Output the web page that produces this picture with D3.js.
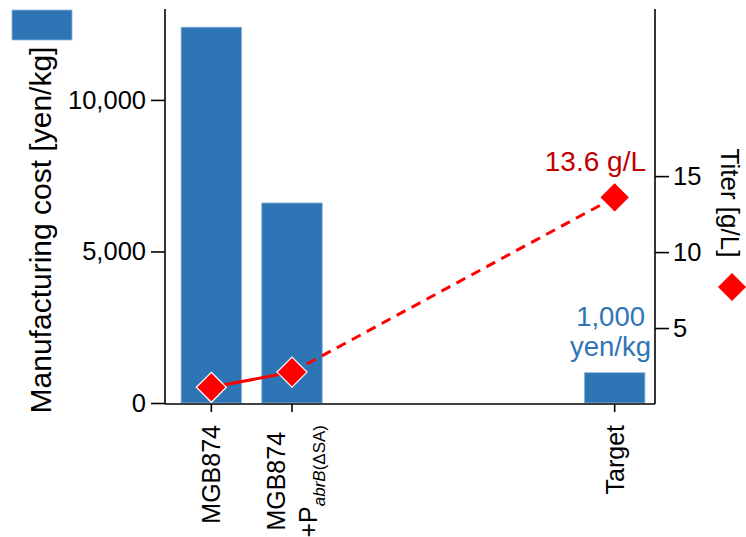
<!DOCTYPE html>
<html>
<head>
<meta charset="utf-8">
<script src="https://cdn.jsdelivr.net/npm/d3@7"></script>
<style>
  html, body { margin: 0; padding: 0; background: #fff; }
  svg { display: block; font-family: "Liberation Sans", Arial, sans-serif; }
</style>
</head>
<body>
<svg id="chart" width="746" height="537"></svg>
<script>
// Strains / scenarios on the x axis
const categories = ["MGB874", "MGB874 +PabrB", "Target"];
// Manufacturing cost per strain [yen/kg] (bars, left axis)
const costValues = [12400, 6600, 1000];
// Titer per strain [g/L] (diamonds, right axis)
const titerValues = [1.1, 2.1, 13.6];
// Axis ticks
const costTicks = [0, 5000, 10000];
const titerTicks = [5, 10, 15];

const BLUE = "#2E75B6";
const RED = "#FF0000";
const DARKRED = "#C00000";

const svg = d3.select("#chart");
const plotLeft = 165, plotRight = 655, plotTop = 9, plotBottom = 404;

// Horizontal layout: two measured strains, a gap of three empty slots, then the target
const slots = [categories[0], categories[1], "_s1", "_s2", "_s3", categories[2]];
const x = d3.scaleBand().domain(slots).range([171, 655]).paddingInner(0).paddingOuter(0);
const cx = c => x(c) + x.bandwidth() / 2;
const barW = x.bandwidth() * 0.75;

const yCost = d3.scaleLinear().domain([0, 13000]).range([plotBottom - 1, plotTop]);
const yTiter = d3.scaleLinear().domain([0, 26]).range([plotBottom, plotTop]);

// Bars
svg.append("g").selectAll("rect")
  .data(categories.map((c, i) => ({ c, v: costValues[i] })))
  .join("rect")
  .attr("x", d => cx(d.c) - barW / 2)
  .attr("y", d => yCost(d.v))
  .attr("width", barW)
  .attr("height", d => yCost(0) - yCost(d.v))
  .attr("fill", BLUE)
  .attr("stroke", "#8FB4DE")
  .attr("stroke-width", 0.8);

// Axes
const fmt = d3.format(",");
const axisStyle = g => {
  g.selectAll("path, line").attr("stroke", "#000").attr("stroke-width", 1.6);
  g.selectAll("text").attr("font-size", 25.5).attr("fill", "#000")
    .attr("font-family", "'Liberation Sans', Arial, sans-serif");
};

svg.append("g")
  .attr("transform", `translate(${plotLeft},0)`)
  .call(d3.axisLeft(yCost).tickValues(costTicks).tickFormat(fmt).tickSize(14).tickPadding(5).tickSizeOuter(0))
  .call(axisStyle)
  .call(g => g.select(".domain").attr("d", `M0,${plotTop}V${plotBottom}`));

svg.append("g")
  .attr("transform", `translate(${plotRight},0)`)
  .call(d3.axisRight(yTiter).tickValues(titerTicks).tickSize(14).tickPadding(4).tickSizeOuter(0))
  .call(axisStyle)
  .call(g => g.select(".domain").attr("d", `M0,${plotTop}V${plotBottom}`));

svg.append("g")
  .attr("transform", `translate(0,${plotBottom})`)
  .call(d3.axisBottom(x).tickValues(categories).tickFormat(() => "").tickSize(8).tickSizeOuter(0))
  .call(axisStyle)
  .call(g => g.select(".domain").attr("d", `M${plotLeft},0H${plotRight}`));

// Rotated category labels
const labelTop = 425;
const mkLabel = (c) => svg.append("g")
  .attr("transform", `translate(${cx(c)},${labelTop}) rotate(-90)`)
  .attr("font-size", 25).attr("fill", "#000");

[categories[0], categories[2]].forEach(c => {
  mkLabel(c).append("text").attr("text-anchor", "end").attr("y", 9).text(c);
});

{
  const g = mkLabel(categories[1]);
  const l2 = g.append("text").attr("text-anchor", "end").attr("y", 24.5);
  l2.append("tspan").text("+P");
  const sub = l2.append("tspan").attr("font-size", 17).attr("dy", 8);
  sub.append("tspan").attr("font-style", "italic").text("abrB");
  sub.append("tspan").text("(ΔSA)");
  const len2 = l2.node().getComputedTextLength();
  g.append("text").attr("text-anchor", "middle").attr("x", -len2 / 2).attr("y", -7).text("MGB874");
}

// Axis titles
svg.append("text")
  .attr("transform", `translate(51,230) rotate(-90)`)
  .attr("text-anchor", "middle").attr("font-size", 30).attr("fill", "#000")
  .text("Manufacturing cost [yen/kg]");

svg.append("text")
  .attr("transform", `translate(721,203) rotate(90)`)
  .attr("text-anchor", "middle").attr("font-size", 26).attr("fill", "#000")
  .text("Titer [g/L]");

// Legend keys
svg.append("rect").attr("x", 12).attr("y", 10).attr("width", 60).attr("height", 30)
  .attr("fill", BLUE).attr("stroke", "#8FB4DE").attr("stroke-width", 0.8);

const diamond = (s) => `M0,${-s}L${s},0L0,${s}L${-s},0Z`;
svg.append("path").attr("d", diamond(14)).attr("transform", "translate(732,287)").attr("fill", RED);

// Titer line: solid between measured strains, dashed to target
const pts = categories.map((c, i) => [cx(c), yTiter(titerValues[i])]);
svg.append("path").attr("d", d3.line()(pts.slice(0, 2)))
  .attr("fill", "none").attr("stroke", RED).attr("stroke-width", 3);
svg.append("path").attr("d", d3.line()(pts.slice(1, 3)))
  .attr("fill", "none").attr("stroke", RED).attr("stroke-width", 3)
  .attr("stroke-dasharray", "10,7");

svg.append("g").selectAll("path")
  .data(pts)
  .join("path")
  .attr("d", diamond(15))
  .attr("transform", d => `translate(${d[0]},${d[1]})`)
  .attr("fill", RED).attr("stroke", "#fff").attr("stroke-width", 1.2);

// Value annotations
svg.append("text").attr("x", 646).attr("y", 171).attr("text-anchor", "end")
  .attr("font-size", 28).attr("fill", DARKRED)
  .text(`${titerValues[2]} g/L`);

const costLabel = svg.append("text").attr("text-anchor", "end").attr("font-size", 27.5).attr("fill", BLUE);
costLabel.append("tspan").attr("x", 645).attr("y", 326).text(fmt(costValues[2]));
costLabel.append("tspan").attr("x", 651).attr("y", 356).text("yen/kg");
</script>
</body>
</html>
